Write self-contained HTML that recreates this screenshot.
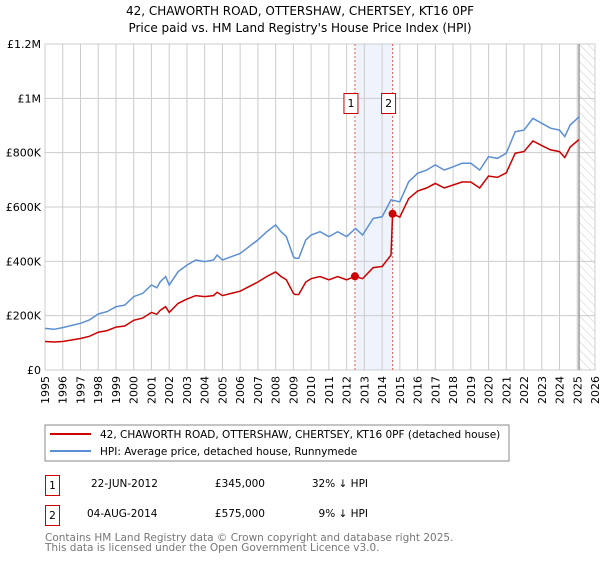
<!DOCTYPE html>
<html><head><meta charset="utf-8"><style>
body{margin:0;background:#fff;font-family:"DejaVu Sans","Liberation Sans",sans-serif;}
svg text{font-family:"DejaVu Sans","Liberation Sans",sans-serif;}
</style></head><body>
<svg id="chart" width="600" height="560" xmlns="http://www.w3.org/2000/svg">
<defs><pattern id="hatch" width="6" height="6" patternUnits="userSpaceOnUse" patternTransform="rotate(-45)"><line x1="0" y1="0" x2="0" y2="6" stroke="#ccc" stroke-width="1"/></pattern></defs>
<text x="300" y="15" text-anchor="middle" font-size="12">42, CHAWORTH ROAD, OTTERSHAW, CHERTSEY, KT16 0PF</text>
<text x="300" y="32" text-anchor="middle" font-size="12">Price paid vs. HM Land Registry's House Price Index (HPI)</text>
<g id="grid"></g><g id="series"></g><g id="axes"></g>
<rect x="45" y="425" width="464" height="36" fill="#fff" stroke="#888"/>
<line x1="50" y1="434" x2="91" y2="434" stroke="#cc0000" stroke-width="2"/>
<text x="100" y="438" font-size="10.5">42, CHAWORTH ROAD, OTTERSHAW, CHERTSEY, KT16 0PF (detached house)</text>
<line x1="50" y1="451" x2="91" y2="451" stroke="#5b8fd4" stroke-width="2"/>
<text x="100" y="455" font-size="10.5">HPI: Average price, detached house, Runnymede</text>
<rect x="45.5" y="475.5" width="14" height="20" fill="#fff" stroke="#cc0000"/>
<text x="52.5" y="489" font-size="10.5" text-anchor="middle">1</text>
<text x="91" y="487" font-size="10.5">22-JUN-2012</text>
<text x="265" y="487" font-size="10.5" text-anchor="end">£345,000</text>
<text x="368" y="487" font-size="10.5" text-anchor="end">32% ↓ HPI</text>
<rect x="45.5" y="505.5" width="14" height="20" fill="#fff" stroke="#cc0000"/>
<text x="52.5" y="519" font-size="10.5" text-anchor="middle">2</text>
<text x="87" y="517" font-size="10.5">04-AUG-2014</text>
<text x="265" y="517" font-size="10.5" text-anchor="end">£575,000</text>
<text x="368" y="517" font-size="10.5" text-anchor="end">9% ↓ HPI</text>
<text x="45" y="541" font-size="10.5" fill="#777">Contains HM Land Registry data © Crown copyright and database right 2025.</text>
<text x="45" y="551" font-size="10.5" fill="#777">This data is licensed under the Open Government Licence v3.0.</text>
</svg>
<script>
const hpiYears=[1995,1995.5,1996,1997,1997.5,1998,1998.5,1999,1999.5,2000,2000.5,2001,2001.3,2001.5,2001.8,2002,2002.5,2003,2003.5,2004,2004.5,2004.7,2005,2005.5,2006,2006.5,2007,2007.5,2008,2008.3,2008.6,2009,2009.1,2009.3,2009.7,2010,2010.5,2011,2011.5,2012,2012.5,2012.9,2013.5,2014,2014.5,2015,2015.5,2016,2016.5,2017,2017.5,2018,2018.5,2019,2019.5,2020,2020.5,2021,2021.5,2022,2022.5,2023,2023.5,2024,2024.3,2024.6,2025,2025.1];
const hpiValues=[153,150,156,172,184,206,215,233,239,270,282,313,303,325,344,313,362,386,405,399,405,423,405,417,429,454,479,509,534,509,491,417,411,411,479,497,509,491,509,491,521,497,558,564,626,619,693,724,736,755,736,748,761,761,736,785,779,798,877,883,926,908,890,883,859,902,926,932];
const priceYears=[1995,1995.5,1996,1997,1997.5,1998,1998.5,1999,1999.5,2000,2000.5,2001,2001.3,2001.5,2001.8,2002,2002.5,2003,2003.5,2004,2004.5,2004.7,2005,2005.5,2006,2006.5,2007,2007.5,2008,2008.3,2008.6,2009,2009.1,2009.3,2009.7,2010,2010.5,2011,2011.5,2012,2012.47,2012.9,2013.5,2014,2014.5,2014.59,2015,2015.5,2016,2016.5,2017,2017.5,2018,2018.5,2019,2019.5,2020,2020.5,2021,2021.5,2022,2022.5,2023,2023.5,2024,2024.3,2024.6,2025,2025.1];
const priceValues=[105,103,105,116,124,139,145,158,162,183,191,212,205,220,233,212,245,261,274,270,274,286,274,282,290,307,324,344,361,344,332,282,278,278,324,336,344,332,344,332,345,336,377,381,423,575,563,631,659,670,687,670,681,692,692,670,714,709,726,798,804,843,826,810,804,782,821,843,848];
const saleYears=[2012.47,2014.59];
const saleValues=[345,575];
const saleLabels=["1","2"];
const yTicks=[0,200,400,600,800,1000,1200];
const yTickLabels=["£0","£200K","£400K","£600K","£800K","£1M","£1.2M"];
const xTicks=[1995,1996,1997,1998,1999,2000,2001,2002,2003,2004,2005,2006,2007,2008,2009,2010,2011,2012,2013,2014,2015,2016,2017,2018,2019,2020,2021,2022,2023,2024,2025,2026];
const X0=45,X1=595,Y0=370,Y1=44;
const xs=y=>X0+(y-1995)/(2026-1995)*(X1-X0);
const ys=v=>Y0-v/1200*(Y0-Y1);
const NS="http://www.w3.org/2000/svg";
function mk(parent,tag,attrs){const e=document.createElementNS(NS,tag);for(const k in attrs)e.setAttribute(k,attrs[k]);document.getElementById(parent).appendChild(e);return e;}
let r=mk('grid','rect',{x:xs(saleYears[0]),y:Y1,width:xs(saleYears[1])-xs(saleYears[0]),height:Y0-Y1,fill:'#eef3fc'});


let h=mk('grid','rect',{x:xs(2025.1),y:Y1,width:X1-xs(2025.1),height:Y0-Y1,fill:'url(#hatch)'});


xTicks.forEach(t=>{
 let l=mk('grid','line',{x1:xs(t),x2:xs(t),y1:Y1,y2:Y0,stroke:'#ccc','stroke-width':1});
 
 
 let tx=mk('axes','text',{transform:`translate(${xs(t)+4},${Y0+6}) rotate(-90)`,'font-size':11,'text-anchor':'end'});
 tx.textContent=t;
 
 
});
yTicks.forEach((t,i)=>{
 let l=mk('grid','line',{x1:X0,x2:X1,y1:ys(t),y2:ys(t),stroke:'#ccc','stroke-width':1});
 
 
 let tx=mk('axes','text',{x:X0-4,y:ys(t)+4,'font-size':11,'text-anchor':'end'});
 tx.textContent=yTickLabels[i];
 
 
});
let nl=mk('grid','line',{x1:xs(2025.1),x2:xs(2025.1),y1:Y1,y2:Y0,stroke:'#999','stroke-width':1.5});


saleYears.forEach((s,i)=>{
 let l=mk('grid','line',{x1:xs(s),x2:xs(s),y1:Y1,y2:Y0,stroke:'#e06060','stroke-width':1,'stroke-dasharray':'2,2'});
 
 
});
const path=(xa,va)=>xa.map((x,i)=>(i?'L':'M')+xs(x).toFixed(1)+','+ys(va[i]).toFixed(1)).join('');
let hp=mk('series','path',{d:path(hpiYears,hpiValues),fill:'none',stroke:'#5b8fd4','stroke-width':1.5});


let pp=mk('series','path',{d:path(priceYears,priceValues),fill:'none',stroke:'#cc0000','stroke-width':1.5});


saleYears.forEach((s,i)=>{
 let c=mk('series','circle',{cx:xs(s),cy:ys(saleValues[i]),r:4,fill:'#cc0000'});
 
 
 let b=mk('series','rect',{x:xs(s)-11,y:93.5,width:14,height:20,fill:'#fff',stroke:'#cc0000'});
 
 
 let t=mk('series','text',{x:xs(s)-4,y:107,'font-size':11,'text-anchor':'middle'});
 t.textContent=saleLabels[i];
 
 
});
</script>
</body></html>
